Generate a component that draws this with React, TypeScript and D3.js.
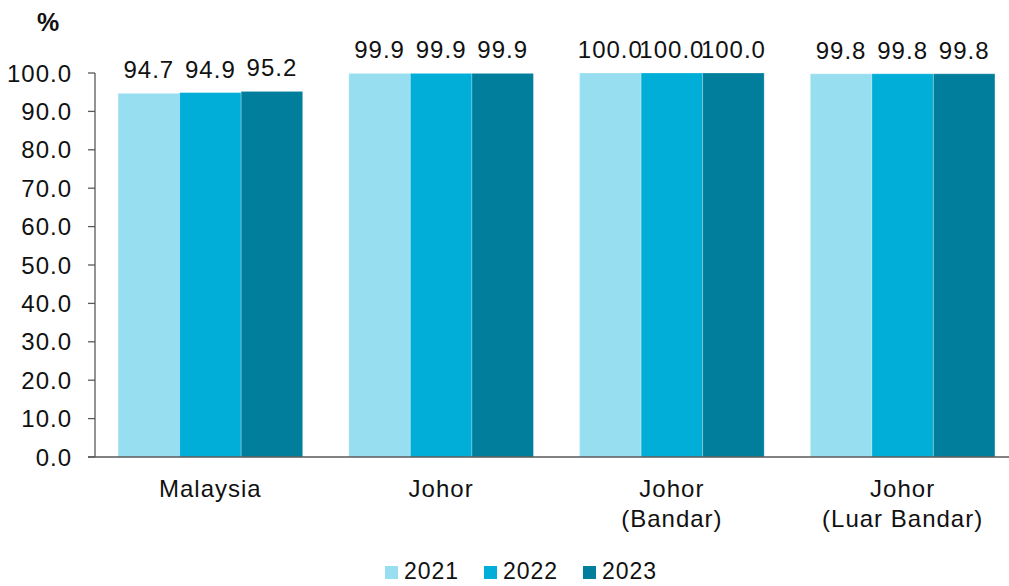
import React from "react";
import * as d3 from "d3";

const categories: string[][] = [["Malaysia"], ["Johor"], ["Johor", "(Bandar)"], ["Johor", "(Luar Bandar)"]];
const series = ["2021", "2022", "2023"];
const values2021 = [94.7, 99.9, 100.0, 99.8];
const values2022 = [94.9, 99.9, 100.0, 99.8];
const values2023 = [95.2, 99.9, 100.0, 99.8];
const yTicks = [0, 10, 20, 30, 40, 50, 60, 70, 80, 90, 100];
const colors = ["#97dff0", "#00aed8", "#007e9c"];

export default function App() {
  const W = 1009, H = 586;
  const left = 95, right = 1018, top = 73, bottom = 457;
  const font = "Arial, 'Liberation Sans', sans-serif";
  const fs = 24;
  const ls = 1;
  const x = d3.scaleBand<number>().domain(categories.map((_, i) => i)).range([left, right]).paddingInner(0.2).paddingOuter(0.1);
  const xs = d3.scaleBand<string>().domain(series).range([0, x.bandwidth()]);
  const y = d3.scaleLinear().domain([0, 100]).range([bottom, top]);
  const data = [values2021, values2022, values2023];
  return (
    <svg width={W} height={H} style={{ position: "absolute", left: 0, top: 0 }} fontFamily={font}>
      <rect width={W} height={H} fill="#fff" />
      <text x={48} y={31} fontSize={25} fontWeight="bold" textAnchor="middle" fill="#111">%</text>
      {categories.map((c, i) =>
        series.map((s, j) => {
          const v = data[j][i];
          const bx = (x(i) as number) + (xs(s) as number);
          return (
            <g key={`${i}-${j}`}>
              <rect x={bx} y={y(v)} width={xs.bandwidth()} height={bottom - y(v)} fill={colors[j]} stroke="#ffffff" strokeOpacity={0.25} strokeWidth={1} />
              <text x={bx + xs.bandwidth() / 2} y={y(v) - 15} fontSize={fs} letterSpacing={ls} textAnchor="middle" fill="#111">{v.toFixed(1)}</text>
            </g>
          );
        })
      )}
      <line x1={left} x2={left} y1={top} y2={bottom} stroke="#595959" strokeWidth={1.3} />
      <line x1={88} x2={W} y1={bottom} y2={bottom} stroke="#595959" strokeWidth={1.3} />
      {yTicks.map(t => (
        <g key={t}>
          <line x1={88} x2={left} y1={y(t)} y2={y(t)} stroke="#595959" strokeWidth={1.3} />
          <text x={72} y={y(t)} dy="0.36em" fontSize={fs} letterSpacing={ls} textAnchor="end" fill="#111">{t.toFixed(1)}</text>
        </g>
      ))}
      {categories.map((c, i) => (
        <text key={i} x={(x(i) as number) + x.bandwidth() / 2} y={497} fontSize={fs} letterSpacing={ls} textAnchor="middle" fill="#111">
          {c.map((l, k) => <tspan key={k} x={(x(i) as number) + x.bandwidth() / 2} dy={k === 0 ? 0 : 30}>{l}</tspan>)}
        </text>
      ))}
      {series.map((s, j) => {
        const lx = 385 + j * 99;
        return (
          <g key={s}>
            <rect x={lx} y={566} width={13} height={13} fill={colors[j]} />
            <text x={lx + 19} y={579} fontSize={23} letterSpacing={ls} fill="#111">{s}</text>
          </g>
        );
      })}
    </svg>
  );
}
